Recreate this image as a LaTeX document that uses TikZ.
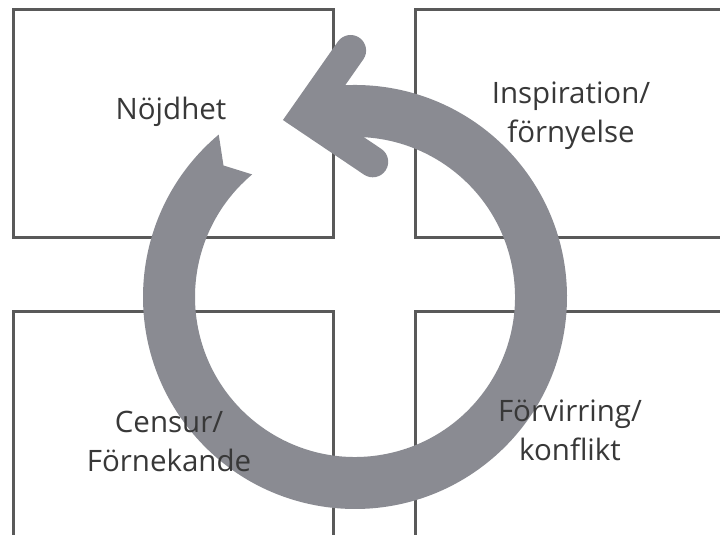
\documentclass[tikz,border=0pt]{standalone}
\usepackage{fontspec}
\setmainfont{Open Sans}
\usepackage{tikz}
\usetikzlibrary{positioning}
\definecolor{ringgray}{HTML}{8A8B92}
\definecolor{framegray}{HTML}{595959}
\definecolor{inkgray}{HTML}{383838}

\begin{document}
\begin{tikzpicture}[
    x=1pt, y=1pt,
    every node/.style={font=\fontsize{29.5}{39}\selectfont, text=inkgray},
    quad/.style={rectangle, draw=framegray, line width=3pt, minimum width=320pt, minimum height=228pt, inner sep=0pt},
    phase/.style={align=center, inner sep=0pt},
    cycle/.style={fill=ringgray},
    head/.style={draw=ringgray, line width=31pt, line cap=round, line join=miter}
]
\useasboundingbox (0,0) rectangle (720,535);
\clip (0,0) rectangle (720,535);

% Quadrants
\node[quad] (q1) at (173,411) {};
\node[quad] (q2) at (575,411) {};
\node[quad] (q3) at (173,109) {};
\node[quad] (q4) at (575,109) {};

% Cycle ring with notched tail
\begin{scope}[shift={(355,238)}]
\fill[cycle] (130:212) arc[start angle=130, end angle=460, radius=212]
    -- (460:160) arc[start angle=460, end angle=130, radius=160]
    -- (135:186) -- cycle;
% Arrow head
\coordinate (hv) at (-50.3,181);
\coordinate (hu) at (-4.4,246.5);
\coordinate (hl) at (17.7,135.2);
\draw[head] (hu) -- (hv) -- (hl);
\end{scope}

% Phase labels
\node[phase, anchor=base] (nojd) at (171,415) {Nöjdhet};
\node[phase] (insp) at (571,419) {Inspiration/\\förnyelse};
\node[phase] (cens) at (169,94) {Censur/\\Förnekande};
\node[phase] (forv) at (570,105) {Förvirring/\\konflikt};
\end{tikzpicture}
\end{document}
